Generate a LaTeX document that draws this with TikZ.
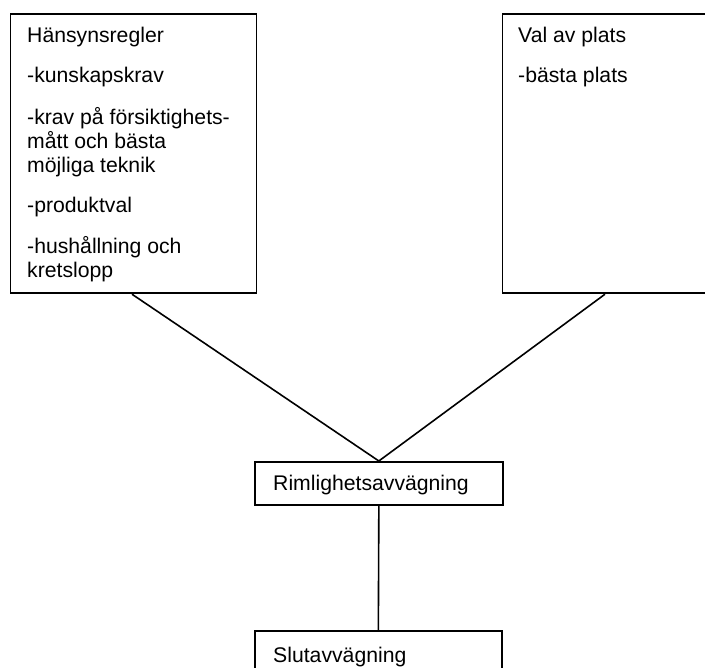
\documentclass[tikz,border=0pt]{standalone}
\usepackage{fontspec}
\setmainfont{Liberation Sans}
\usetikzlibrary{calc}
\tikzset{
  box/.style={draw=black, line width=1.7pt, rectangle, inner sep=0pt, anchor=north west},
  txt/.style={anchor=base west, inner sep=0pt, font=\fontsize{21.2}{24}\selectfont},
  conn/.style={draw=black, line width=1.6pt}
}
\begin{document}
\begin{tikzpicture}[x=1pt, y=-1pt]
\useasboundingbox (0,0) rectangle (705,668);
\clip (0,0) rectangle (705,668);
% boxes
\node[box, minimum width=246pt, minimum height=279pt] (L) at (9.5,13.5) {};
\node[box, minimum width=260pt, minimum height=279pt] (V) at (501.5,13.5) {};
\node[box, minimum width=248pt, minimum height=43pt] (R) at (254,461) {};
\node[box, minimum width=247pt, minimum height=60pt] (S) at (254,630) {};
% texts left
\node[txt] (t1) at (27,43) {Hänsynsregler};
\node[txt] (t2) at (27,83) {-kunskapskrav};
\node[txt] (t3) at (27,124.5) {-krav på försiktighets-};
\node[txt] (t4) at (27,148.5) {mått och bästa};
\node[txt] (t5) at (27,172.5) {möjliga teknik};
\node[txt] (t6) at (27,213) {-produktval};
\node[txt] (t7) at (27,253.5) {-hushållning och};
\node[txt] (t8) at (27,277.5) {kretslopp};
% texts right
\node[txt] (v1) at (518,43) {Val av plats};
\node[txt] (v2) at (518,83) {-bästa plats};
% bottom texts
\node[txt] (r1) at (273,491) {Rimlighetsavvägning};
\node[txt] (s1) at (273,662) {Slutavvägning};
% connectors
\coordinate (Lc) at ($(L.south west)+(122.5,0)$);
\coordinate (Vc) at ($(V.south west)+(103.5,0)$);
\draw[conn] (Lc) -- (R.north);
\draw[conn] (Vc) -- (R.north);
\draw[conn] (R.south) -- (S.north);
\end{tikzpicture}
\end{document}
